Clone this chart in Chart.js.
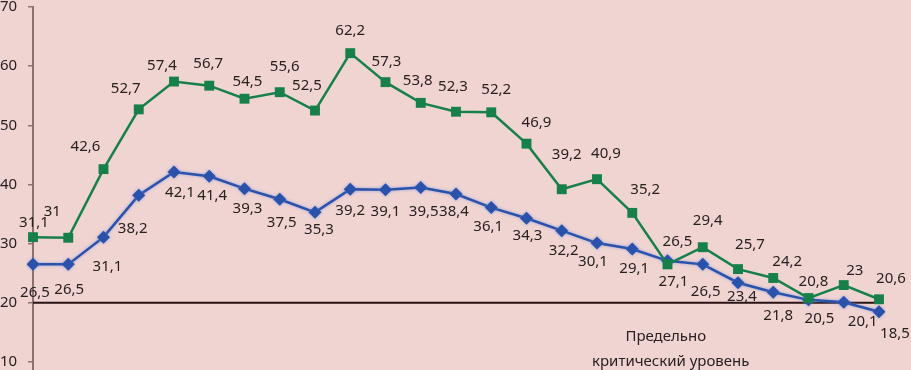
<!DOCTYPE html>
<html>
<head>
<meta charset="utf-8">
<script src="https://cdn.jsdelivr.net/npm/chart.js@4/dist/chart.umd.min.js"></script>
<style>
  html, body { margin: 0; padding: 0; background: #efd4d2; overflow: hidden; }
  #wrap { width: 911px; height: 370px; position: relative; }
</style>
</head>
<body>
<div id="wrap"><canvas id="chart"></canvas></div>
<script>
const points = ['1','2','3','4','5','6','7','8','9','10','11','12','13','14','15','16','17','18','19','20','21','22','23','24','25'];
const greenValues = [31.1, 31, 42.6, 52.7, 57.4, 56.7, 54.5, 55.6, 52.5, 62.2, 57.3, 53.8, 52.3, 52.2, 46.9, 39.2, 40.9, 35.2, 26.5, 29.4, 25.7, 24.2, 20.8, 23, 20.6];
const blueValues = [26.5, 26.5, 31.1, 38.2, 42.1, 41.4, 39.3, 37.5, 35.3, 39.2, 39.1, 39.5, 38.4, 36.1, 34.3, 32.2, 30.1, 29.1, 27.1, 26.5, 23.4, 21.8, 20.5, 20.1, 18.5];
const yTicks = [10, 20, 30, 40, 50, 60, 70];
const criticalLevel = 20;
const criticalText = ['Предельно', 'критический уровень'];

// where each data label sits relative to its point (dx, dy in px)
const greenLabelShift = [[1,-14],[-16,-26],[-18,-22],[-13,-21],[-12,-16],[-1,-22],[3,-17],[5,-25],[-8,-25],[0,-22],[1,-20],[-3,-22],[-3,-25],[5,-23],[10,-21],[5,-34],[9,-25],[13,-23],[10,-23],[5,-26],[12,-24],[14,-16],[5,-16],[11,-14],[12,-21]];
const blueLabelShift = [[2,28],[1,25],[4,30],[-6,34],[6,21],[3,20],[3,20],[2,23],[4,17],[0,22],[0,22],[3,24],[-2,18],[-3,19],[1,18],[2,20],[-4,19],[2,20],[6,21],[3,27],[4,14],[5,24],[11,19],[19,19],[16,22]];

const textColor = '#2a2020';
const axisColor = '#8a7272';
const greenColor = '#17804a';
const blueColor = '#2a52aa';

const criticalLinePlugin = {
    id: 'criticalLine',
    beforeDatasetsDraw(chart) {
        const ctx = chart.ctx;
        const area = chart.chartArea;
        const y = chart.scales.y.getPixelForValue(criticalLevel);
        ctx.save();
        // axis runs on past the bottom of the picture
        ctx.strokeStyle = axisColor;
        ctx.lineWidth = 2;
        ctx.beginPath();
        ctx.moveTo(area.left, area.bottom);
        ctx.lineTo(area.left, chart.height);
        ctx.stroke();

        ctx.strokeStyle = '#2a1212';
        ctx.lineWidth = 2;
        ctx.beginPath();
        ctx.moveTo(area.left, y);
        ctx.lineTo(area.right + 4, y);
        ctx.stroke();

        const x = chart.scales.x.getPixelForValue(17.95);
        ctx.fillStyle = textColor;
        ctx.font = '15px "Noto Sans"';
        ctx.textAlign = 'center';
        ctx.textBaseline = 'middle';
        ctx.fillText(criticalText[0], x, y + 34);
        ctx.fillText(criticalText[1], x + 5, y + 59);
        ctx.restore();
    },
    // soft light-blue glow round the blue line
    beforeDatasetDraw(chart, args) {
        if (args.index === 1) {
            chart.ctx.save();
            chart.ctx.shadowColor = 'rgba(110, 135, 220, 0.7)';
            chart.ctx.shadowBlur = 3;
        }
    },
    afterDatasetDraw(chart, args) {
        if (args.index === 1) chart.ctx.restore();
    }
};

const valueLabelPlugin = {
    id: 'valueLabels',
    afterDatasetsDraw(chart) {
        const ctx = chart.ctx;
        const shifts = [greenLabelShift, blueLabelShift];
        ctx.save();
        ctx.fillStyle = textColor;
        ctx.font = '15px "Noto Sans"';
        ctx.textAlign = 'center';
        ctx.textBaseline = 'middle';
        chart.data.datasets.forEach((ds, di) => {
            const meta = chart.getDatasetMeta(di);
            meta.data.forEach((pt, i) => {
                const s = shifts[di][i];
                const txt = String(ds.data[i]).replace('.', ',');
                ctx.fillText(txt, pt.x + s[0], pt.y + s[1]);
            });
        });
        ctx.restore();
    }
};

new Chart(document.getElementById('chart'), {
    type: 'line',
    data: {
        labels: points,
        datasets: [{
            label: 'green',
            data: greenValues,
            borderColor: greenColor,
            backgroundColor: greenColor,
            borderWidth: 2.5,
            pointStyle: 'rect',
            pointRadius: 7,
            pointBorderWidth: 0,
            tension: 0
        }, {
            label: 'blue',
            data: blueValues,
            borderColor: blueColor,
            backgroundColor: blueColor,
            borderWidth: 2.5,
            pointStyle: 'rectRot',
            pointRadius: 6.5,
            pointBorderWidth: 0,
            tension: 0
        }]
    },
    options: {
        responsive: true,
        maintainAspectRatio: false,
        animation: false,
        layout: { padding: { left: 0, right: 32, top: 0, bottom: 0 } },
        plugins: {
            legend: { display: false },
            tooltip: { enabled: false }
        },
        scales: {
            x: {
                display: false,
                offset: false
            },
            y: {
                min: 9.83,
                max: 70,
                afterBuildTicks: (scale) => {
                    scale.ticks = yTicks.map(v => ({ value: v }));
                },
                afterFit: (scale) => {
                    scale.width = 33;
                },
                border: { display: true, color: axisColor, width: 2 },
                grid: {
                    drawOnChartArea: false,
                    drawTicks: true,
                    tickLength: 5,
                    color: axisColor,
                    lineWidth: 1.5
                },
                ticks: {
                    color: textColor,
                    font: { family: 'Noto Sans', size: 15, lineHeight: 0.8 },
                    padding: 0,
                    crossAlign: 'far'
                }
            }
        }
    },
    plugins: [criticalLinePlugin, valueLabelPlugin]
});
</script>
</body>
</html>
